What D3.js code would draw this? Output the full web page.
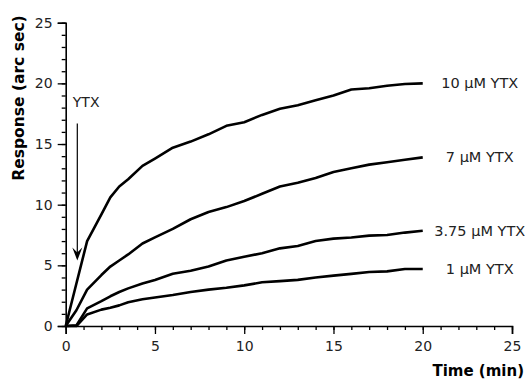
<!DOCTYPE html>
<html>
<head>
<meta charset="utf-8">
<script src="https://cdn.jsdelivr.net/npm/d3@7"></script>
<style>
  html, body { margin: 0; padding: 0; background: #fff; }
  svg { display: block; font-family: "DejaVu Sans", Verdana, sans-serif; }
</style>
</head>
<body>
<div id="chart"></div>
<script>
// Chart size matches the browser window
const width = 525;
const height = 380;
const margin = { top: 22.7, right: 13, bottom: 54, left: 65.7 };

// Sampling times (min)
const times = [0, 0.6, 1.2, 2, 2.5, 3, 3.5, 4.3, 5, 6, 7, 8, 9, 10, 11, 12, 13, 14, 15, 16, 17, 18, 19, 20];

// Response (arc sec) for each concentration
const resp10 = [0, 3.5, 7.0, 9.2, 10.6, 11.5, 12.1, 13.2, 13.8, 14.7, 15.2, 15.8, 16.5, 16.8, 17.4, 17.9, 18.2, 18.6, 19.0, 19.5, 19.6, 19.8, 19.95, 20.0];
const resp7 = [0, 1.3, 3.0, 4.2, 4.9, 5.4, 5.9, 6.8, 7.3, 8.0, 8.8, 9.4, 9.8, 10.3, 10.9, 11.5, 11.8, 12.2, 12.7, 13.0, 13.3, 13.5, 13.7, 13.9];
const resp375 = [0, 0.05, 1.45, 2.05, 2.45, 2.8, 3.1, 3.5, 3.8, 4.3, 4.55, 4.9, 5.4, 5.7, 6.0, 6.4, 6.6, 7.0, 7.2, 7.3, 7.45, 7.5, 7.7, 7.85];
const resp1 = [0, 0, 0.95, 1.35, 1.5, 1.7, 1.95, 2.2, 2.35, 2.55, 2.8, 3.0, 3.15, 3.35, 3.6, 3.7, 3.8, 4.0, 4.15, 4.3, 4.45, 4.5, 4.7, 4.7];

const seriesNames = ["10 µM YTX", "7 µM YTX", "3.75 µM YTX", "1 µM YTX"];
const seriesValues = [resp10, resp7, resp375, resp1];

// Axis ticks
const xTicks = [0, 5, 10, 15, 20, 25];
const yTicks = [0, 5, 10, 15, 20, 25];

// YTX injection marker (time, top and bottom response)
const injectTime = 0.65;
const injectFrom = 16.7;
const injectTo = 5.4;

const x = d3.scaleLinear().domain([0, 25]).range([margin.left, width - margin.right]);
const y = d3.scaleLinear().domain([0, 25]).range([height - margin.bottom, margin.top]);

const svg = d3.select("#chart").append("svg")
    .attr("width", width)
    .attr("height", height);

// minor ticks every 1 unit
const minor = d3.range(0, 26);

const xAxis = svg.append("g")
    .attr("transform", `translate(0,${y(0)})`);
xAxis.append("g")
    .call(d3.axisBottom(x).tickValues(minor).tickSize(4).tickFormat(""))
    .call(g => g.select(".domain").remove());
xAxis.append("g")
    .call(d3.axisBottom(x).tickValues(xTicks).tickSize(8).tickPadding(7).tickFormat(d3.format("d")));

const yAxis = svg.append("g")
    .attr("transform", `translate(${x(0)},0)`);
yAxis.append("g")
    .call(d3.axisLeft(y).tickValues(minor).tickSize(4).tickFormat(""))
    .call(g => g.select(".domain").remove());
yAxis.append("g")
    .call(d3.axisLeft(y).tickValues(yTicks).tickSize(8).tickPadding(5).tickFormat(d3.format("d")));

svg.selectAll(".tick line").attr("stroke", "#000").attr("stroke-width", 1.3);
svg.selectAll(".domain").attr("stroke", "#000").attr("stroke-width", 1.6);
svg.selectAll(".tick text")
    .attr("font-size", 14)
    .attr("font-family", "DejaVu Sans, Verdana, sans-serif")
    .attr("fill", "#222");

// Axis titles
svg.append("text")
    .attr("transform", `translate(24,98) rotate(-90)`)
    .attr("text-anchor", "middle")
    .attr("font-size", 15.5)
    .attr("font-weight", "bold")
    .text("Response (arc sec)");

svg.append("text")
    .attr("x", 524)
    .attr("y", 376)
    .attr("text-anchor", "end")
    .attr("font-size", 15)
    .attr("font-weight", "bold")
    .text("Time (min)");

// Curves
const line = d3.line()
    .x((d, i) => x(times[i]))
    .y(d => y(d));

svg.append("g")
    .selectAll("path")
    .data(seriesValues)
    .join("path")
    .attr("fill", "none")
    .attr("stroke", "#000")
    .attr("stroke-width", 2.6)
    .attr("stroke-linejoin", "round")
    .attr("d", line);

// Series labels
svg.append("g")
    .selectAll("text")
    .data(seriesValues)
    .join("text")
    .attr("x", x(20) + 57)
    .attr("y", d => y(d[d.length - 1]))
    .attr("dy", "0.35em")
    .attr("text-anchor", "middle")
    .attr("font-size", 14.5)
    .attr("fill", "#222")
    .text((d, i) => seriesNames[i]);

// Injection arrow
const ax = x(injectTime);
const tipY = y(injectTo);
svg.append("line")
    .attr("x1", ax).attr("x2", ax)
    .attr("y1", y(injectFrom)).attr("y2", tipY - 4)
    .attr("stroke", "#000")
    .attr("stroke-width", 1.2);
svg.append("path")
    .attr("d", `M${ax},${tipY} L${ax - 5},${tipY - 13} L${ax},${tipY - 8} L${ax + 5},${tipY - 13} Z`)
    .attr("fill", "#000");

svg.append("text")
    .attr("x", ax - 4.5)
    .attr("y", y(injectFrom) - 16)
    .attr("font-size", 14)
    .attr("fill", "#222")
    .text("YTX");
</script>
</body>
</html>
